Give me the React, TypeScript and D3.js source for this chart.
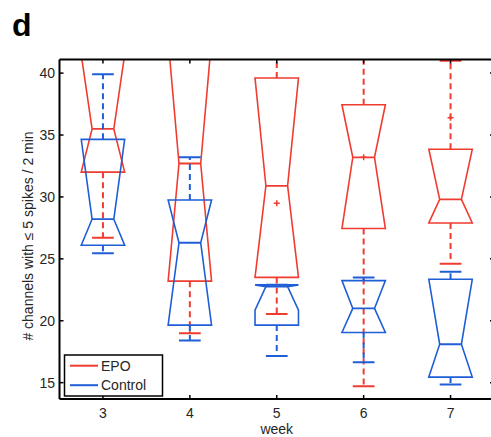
import React from "react";
import * as d3 from "d3";

const weeks = [3, 4, 5, 6, 7];

// EPO (red)
const epoQ1 = [32.0, 23.2, 23.5, 27.45, 27.9];
const epoMedian = [35.5, 32.7, 30.9, 33.2, 29.8];
const epoQ3 = [43.5, 43.5, 39.6, 37.45, 33.85];
const epoNotch = [6.0, 10.0, 9.0, 6.0, 4.2];
const epoWhiskerLo = [26.7, 19.0, 20.55, 14.7, 24.6];
const epoWhiskerHi = [45, 45, 43, 44, 41.0];
const epoMarkers: [number, number][] = [
  [5, 29.5],
  [6, 33.2],
  [7, 36.4],
];

// Control (blue)
const ctlQ1 = [26.1, 19.65, 19.65, 19.05, 15.45];
const ctlMedian = [28.2, 26.3, 22.75, 21.0, 18.1];
const ctlQ3 = [34.65, 29.75, 22.9, 23.24, 23.35];
const ctlNotch = [6.6, 6.8, 1.9, 2.3, 5.4];
const ctlWhiskerLo = [25.45, 18.4, 17.15, 16.65, 14.85];
const ctlWhiskerHi = [39.9, 33.2, 22.9, 23.5, 23.95];

const yTicks = [15, 20, 25, 30, 35, 40];
const seriesNames = ["EPO", "Control"];

const RED = "#f03c30";
const BLUE = "#1f5ed6";
const FONT = "'Liberation Sans', Arial, Helvetica, sans-serif";

export default function App() {
  const W = 491;
  const H = 437;
  const left = 59.5;
  const top = 59.5;
  const right = 494;
  const bottom = 399;

  const x = d3.scaleLinear().domain([2.5, 7.5]).range([left, right]);
  const y = d3.scaleLinear().domain([13.68, 41.1]).range([bottom, top]);
  const hw = (x(1) - x(0)) * 0.25;

  const renderBox = (
    i: number,
    q1: number,
    med: number,
    q3: number,
    d: number,
    wlo: number,
    whi: number,
    color: string,
    key: string
  ) => {
    const cx = x(weeks[i]);
    const L = cx - hw;
    const R = cx + hw;
    const nL = cx - hw / 2;
    const nR = cx + hw / 2;
    const nlo = Math.max(med - d, q1);
    const nhi = Math.min(med + d, q3);
    const pts: [number, number][] = [
      [L, y(q1)],
      [L, y(nlo)],
      [nL, y(med)],
      [L, y(nhi)],
      [L, y(q3)],
      [R, y(q3)],
      [R, y(nhi)],
      [nR, y(med)],
      [R, y(nlo)],
      [R, y(q1)],
    ];
    const line = d3.line();
    return (
      <g key={key}>
        <line x1={cx} x2={cx} y1={y(q3)} y2={y(whi)} stroke={color} strokeWidth={2} strokeDasharray="6,4" />
        <line x1={cx} x2={cx} y1={y(q1)} y2={y(wlo)} stroke={color} strokeWidth={2} strokeDasharray="6,4" />
        <line x1={cx - hw / 2} x2={cx + hw / 2} y1={y(whi)} y2={y(whi)} stroke={color} strokeWidth={2} />
        <line x1={cx - hw / 2} x2={cx + hw / 2} y1={y(wlo)} y2={y(wlo)} stroke={color} strokeWidth={2} />
        <path d={line(pts) + "Z"} fill="none" stroke={color} strokeWidth={1.6} />
        <line x1={nL} x2={nR} y1={y(med)} y2={y(med)} stroke={color} strokeWidth={1.8} />
      </g>
    );
  };

  return (
    <svg width={W} height={H} style={{ position: "absolute", left: 0, top: 0, background: "#fff" }}>
      <rect x={0} y={0} width={W} height={H} fill="#fff" />
      <text x={12} y={36} fontFamily={FONT} fontWeight="bold" fontSize={32} fill="#000">
        d
      </text>
      <defs>
        <clipPath id="plotClip">
          <rect x={left} y={top} width={right - left} height={bottom - top} />
        </clipPath>
      </defs>
      <g clipPath="url(#plotClip)">
        {weeks.map((_, i) =>
          renderBox(i, epoQ1[i], epoMedian[i], epoQ3[i], epoNotch[i], epoWhiskerLo[i], epoWhiskerHi[i], RED, "e" + i)
        )}
        {epoMarkers.map(([wk, v], i) => (
          <g key={"m" + i} stroke={RED} strokeWidth={1.5}>
            <line x1={x(wk) - 3} x2={x(wk) + 3} y1={y(v)} y2={y(v)} />
            <line x1={x(wk)} x2={x(wk)} y1={y(v) - 3} y2={y(v) + 3} />
          </g>
        ))}
        {weeks.map((_, i) =>
          renderBox(i, ctlQ1[i], ctlMedian[i], ctlQ3[i], ctlNotch[i], ctlWhiskerLo[i], ctlWhiskerHi[i], BLUE, "c" + i)
        )}
      </g>
      {/* axes frame */}
      <line x1={left} x2={left} y1={top} y2={bottom} stroke="#000" strokeWidth={2} />
      <line x1={left} x2={right} y1={top} y2={top} stroke="#000" strokeWidth={2} />
      <line x1={left} x2={right} y1={bottom} y2={bottom} stroke="#000" strokeWidth={2} />
      <line x1={right} x2={right} y1={top} y2={bottom} stroke="#000" strokeWidth={2} />
      {/* y ticks */}
      {yTicks.map((t) => (
        <g key={"yt" + t}>
          <line x1={left} x2={left + 4} y1={y(t)} y2={y(t)} stroke="#000" strokeWidth={1.5} />
          <line x1={right - 4} x2={right} y1={y(t)} y2={y(t)} stroke="#000" strokeWidth={1.5} />
          <text x={55} y={y(t)} dy="0.36em" textAnchor="end" fontFamily={FONT} fontSize={14} fill="#262626">
            {t}
          </text>
        </g>
      ))}
      {/* x ticks */}
      {weeks.map((w) => (
        <g key={"xt" + w}>
          <line x1={x(w)} x2={x(w)} y1={bottom} y2={bottom - 4} stroke="#000" strokeWidth={1.5} />
          <line x1={x(w)} x2={x(w)} y1={top} y2={top + 4} stroke="#000" strokeWidth={1.5} />
          <text x={x(w)} y={418} textAnchor="middle" fontFamily={FONT} fontSize={14} fill="#262626">
            {w}
          </text>
        </g>
      ))}
      <text x={x(5)} y={434} textAnchor="middle" fontFamily={FONT} fontSize={14} fill="#262626">
        week
      </text>
      <text
        transform={`translate(33,236) rotate(-90)`}
        textAnchor="middle"
        fontFamily={FONT}
        fontSize={14}
        fill="#262626"
      >
        # channels with ≤ 5 spikes / 2 min
      </text>
      {/* legend */}
      <rect x={64.5} y={355} width={98} height={41} fill="#fff" stroke="#000" strokeWidth={1.5} />
      {seriesNames.map((name, i) => (
        <g key={name}>
          <line
            x1={70}
            x2={98}
            y1={365.7 + i * 19.5}
            y2={365.7 + i * 19.5}
            stroke={i === 0 ? RED : BLUE}
            strokeWidth={2}
          />
          <text x={101} y={365.7 + i * 19.5} dy="0.36em" fontFamily={FONT} fontSize={14} fill="#262626">
            {name}
          </text>
        </g>
      ))}
    </svg>
  );
}
